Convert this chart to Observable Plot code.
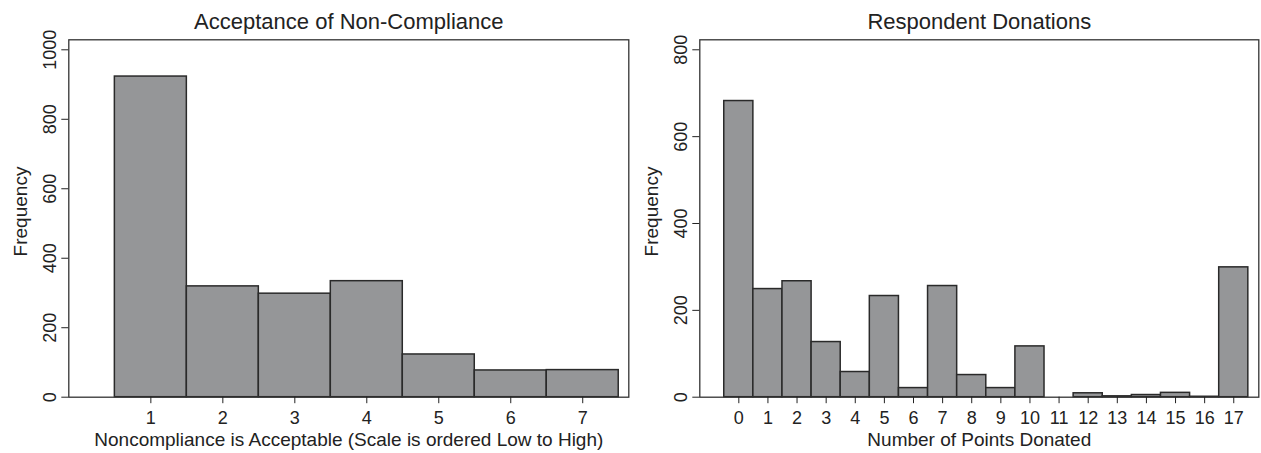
<!DOCTYPE html>
<html><head><meta charset="utf-8">
<script src="https://cdn.jsdelivr.net/npm/d3@7"></script>
<script src="https://cdn.jsdelivr.net/npm/@observablehq/plot@0.6"></script>
<style>
body{margin:0;background:#fff}
#wrap{display:flex;width:1261px;height:453px;overflow:hidden}
#wrap svg{display:block;flex:none}
</style>
</head><body><div id="wrap"></div>
<script>
// Left panel: Acceptance of Non-Compliance
const acceptTitle = "Acceptance of Non-Compliance";
const acceptXLabel = "Noncompliance is Acceptable (Scale is ordered Low to High)";
const acceptLevels = [1, 2, 3, 4, 5, 6, 7];
const acceptCounts = [923, 319, 298, 334, 123, 77, 78];
const acceptYTicks = [0, 200, 400, 600, 800, 1000];

// Right panel: Respondent Donations
const donTitle = "Respondent Donations";
const donXLabel = "Number of Points Donated";
const donPoints = [0, 1, 2, 3, 4, 5, 6, 7, 8, 9, 10, 11, 12, 13, 14, 15, 16, 17];
const donCounts = [682, 249, 267, 127, 58, 233, 21, 256, 51, 21, 117, 0, 9, 2, 5, 10, 1, 299];
const donYTicks = [0, 200, 400, 600, 800];

const yLabel = "Frequency";
const FONT = "'Liberation Sans', Arial, Helvetica, sans-serif";

function panel({cats, counts, xDomain, yDomain, yTicks, title, xLabel, width, marginLeft, marginRight}) {
  const data = cats.map((c, i) => ({c, n: counts[i]})).filter(d => d.n > 0);
  return Plot.plot({
    width, height: 453,
    marginLeft, marginRight, marginTop: 39.3, marginBottom: 56.3,
    style: {fontFamily: FONT, fontSize: "18px", color: "#222", background: "#fff", overflow: "visible"},
    x: {domain: xDomain},
    y: {domain: yDomain},
    marks: [
      Plot.rectY(data, {x1: d => d.c - 0.5, x2: d => d.c + 0.5, y1: 0, y2: "n",
        fill: "#959698", stroke: "#2a2a2a", strokeWidth: 1.5}),
      Plot.frame({stroke: "#333", strokeWidth: 1.3}),
      Plot.axisX({ticks: cats, tickFormat: d => String(d), tickSize: 6.5, tickPadding: 7.5, label: null, fontSize: 18}),
      Plot.axisY({ticks: yTicks, tickFormat: d => String(d), tickSize: 7, tickPadding: 6.3, tickRotate: -90, label: null, fontSize: 18}),
      Plot.text([title], {text: d => d, frameAnchor: "top", lineAnchor: "middle", textAnchor: "middle", dy: -18, fontSize: 22, fill: "#222"}),
      Plot.text([xLabel], {text: d => d, frameAnchor: "bottom", lineAnchor: "middle", textAnchor: "middle", dy: 42.3, fontSize: 19, fill: "#222"}),
      Plot.text([yLabel], {text: d => d, frameAnchor: "left", lineAnchor: "middle", textAnchor: "middle", dx: -48, dy: -7, rotate: -90, fontSize: 19, fill: "#222"})
    ]
  });
}

const wrap = document.getElementById("wrap");
wrap.append(panel({
  cats: acceptLevels, counts: acceptCounts, xDomain: [-0.14, 7.64], yDomain: [0, 1028.8],
  yTicks: acceptYTicks, title: acceptTitle, xLabel: acceptXLabel,
  width: 631, marginLeft: 68.3, marginRight: 2.7
}));
wrap.append(panel({
  cats: donPoints, counts: donCounts, xDomain: [-1.34, 17.86], yDomain: [0, 823],
  yTicks: donYTicks, title: donTitle, xLabel: donXLabel,
  width: 630, marginLeft: 68.3, marginRight: 2.7
}));
</script>
</body></html>
